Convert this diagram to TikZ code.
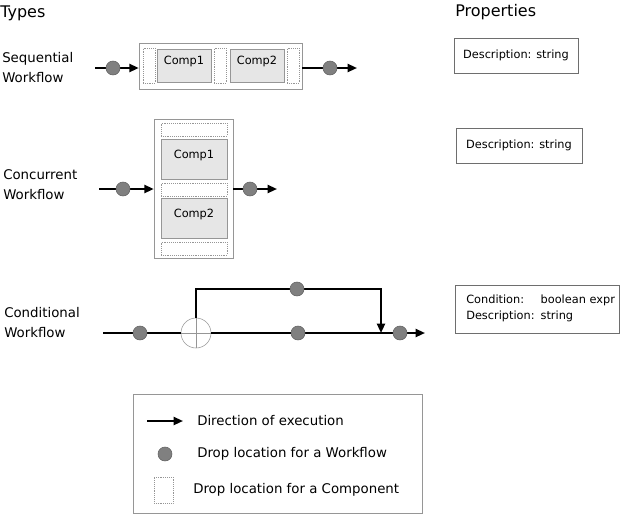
\documentclass[tikz,border=0pt]{standalone}
\usepackage{fontspec}
\setmainfont{DejaVu Sans}
\usepackage{tikz}
\usetikzlibrary{arrows.meta}

\definecolor{dropfill}{RGB}{128,128,128}
\definecolor{dropdraw}{RGB}{95,95,95}
\definecolor{boxgray}{RGB}{150,150,150}
\definecolor{compfill}{RGB}{230,230,230}
\definecolor{propgray}{RGB}{110,110,110}

\begin{document}
\begin{tikzpicture}[x=0.75pt,y=0.75pt,yscale=-1,xscale=1,
    flow/.style={line width=1.5pt,-{Triangle[length=7pt,width=6pt]}},
    flowline/.style={line width=1.5pt},
    dropdot/.style={circle,fill=dropfill,draw=dropdraw,inner sep=0pt,minimum size=10.5pt},
    dropbox/.style={draw=boxgray,densely dotted,inner sep=0pt},
    outerbox/.style={draw=boxgray,inner sep=0pt},
    compbox/.style={draw=boxgray,fill=compfill,inner sep=0pt,font=\fontsize{8.5pt}{10pt}\selectfont,text height=6.5pt,text depth=7.5pt},
    propbox/.style={draw=propgray,inner sep=0pt,font=\fontsize{8.5pt}{11pt}\selectfont},
    typelabel/.style={anchor=west,inner sep=0pt,align=left,font=\fontsize{10pt}{15pt}\selectfont},
    legendtext/.style={anchor=west,inner sep=0pt,font=\fontsize{10pt}{12pt}\selectfont}]
        \useasboundingbox (0,0) rectangle (620,515);

        % Headings
        \node [anchor=west,inner sep=0pt,font=\fontsize{12pt}{14pt}\selectfont] (typesHead) at (0,13) {Types};
        \node [anchor=west,inner sep=0pt,font=\fontsize{12pt}{14pt}\selectfont] (propsHead) at (455,12) {Properties};

        % Text Node
        \node [typelabel] (seqLabel) at (2,68) {Sequential\\Workflow};
        % Text Node
        \node [typelabel] (parLabel) at (3,184.5) {Concurrent\\Workflow};
        % Text Node
        \node [typelabel] (condLabel) at (4,322.5) {Conditional\\Workflow};

        %Shape: Sequential workflow
        \node [outerbox,minimum width=122.25pt,minimum height=34.5pt] (seqBox) at (220.5,66) {};
        \node [dropbox,minimum width=9pt,minimum height=26.25pt] (seqDrop1) at (149,65.5) {};
        \node [compbox,minimum width=40.5pt,minimum height=24.75pt] (seqComp1) at (184,65.5) {Comp1};
        \node [dropbox,minimum width=9pt,minimum height=26.25pt] (seqDrop2) at (220,65.5) {};
        \node [compbox,minimum width=40.5pt,minimum height=24.75pt] (seqComp2) at (257,65.5) {Comp2};
        \node [dropbox,minimum width=9pt,minimum height=26.25pt] (seqDrop3) at (293,65.5) {};
        \coordinate (seqIn) at (95,68);
        \coordinate (seqOut) at (357,68);
        \draw [flow] (seqIn) -- (seqIn -| seqBox.west);
        \draw [flow] (seqIn -| seqBox.east) -- (seqOut);
        \node [dropdot] (seqDot1) at (113,68) {};
        \node [dropdot] (seqDot2) at (330,68) {};

        %Shape: Concurrent workflow
        \node [outerbox,minimum width=59.25pt,minimum height=104.25pt] (parBox) at (193.5,188.5) {};
        \node [dropbox,minimum width=49.5pt,minimum height=9.75pt] (parDrop1) at (194,129.5) {};
        \node [compbox,minimum width=49.5pt,minimum height=30pt] (parComp1) at (194,159) {Comp1};
        \node [dropbox,minimum width=49.5pt,minimum height=9.75pt] (parDrop2) at (194,189.5) {};
        \node [compbox,minimum width=49.5pt,minimum height=30pt] (parComp2) at (194,218) {Comp2};
        \node [dropbox,minimum width=49.5pt,minimum height=9.75pt] (parDrop3) at (194,248.5) {};
        \coordinate (parIn) at (99,189);
        \coordinate (parOut) at (277,189);
        \draw [flow] (parIn) -- (parIn -| parBox.west);
        \draw [flow] (parIn -| parBox.east) -- (parOut);
        \node [dropdot] (parDot1) at (123,189) {};
        \node [dropdot] (parDot2) at (250,189) {};

        %Shape: Conditional workflow
        \node [circle,draw=boxgray,fill=white,inner sep=0pt,minimum size=22.5pt] (condXor) at (196,333) {};
        \draw [boxgray,line width=0.5pt] (condXor.north) -- (condXor.south) (condXor.west) -- (condXor.east);
        \coordinate (condIn) at (103,333);
        \coordinate (condOut) at (425,333);
        \coordinate (condUpL) at (196,289);
        \coordinate (condUpR) at (381,289);
        \coordinate (condJoin) at (381,333);
        \draw [flowline] (condIn) -- (condXor.west);
        \draw [flow] (condXor.east) -- (condOut);
        \draw [flow] (condXor.north) -- (condUpL) -- (condUpR) -- (condJoin);
        \node [dropdot] (condDot1) at (140,333) {};
        \node [dropdot] (condDot2) at (298,333) {};
        \node [dropdot] (condDot3) at (400,333) {};
        \node [dropdot] (condDot4) at (297,289) {};

        %Shape: Properties
        \node [propbox,minimum width=93pt,minimum height=26.25pt] (propSeq) at (516,55.5) {Description: string};
        \node [propbox,minimum width=94.5pt,minimum height=26.25pt] (propPar) at (519,145.5) {Description: string};
        \node [propbox,minimum width=123pt,minimum height=36pt,anchor=west] (propCond) at (455,309) {};
        \node [anchor=west,inner sep=0pt,font=\fontsize{8.5pt}{11pt}\selectfont] (propCondText) at (466,308.5)
            {\begin{tabular}{@{}l@{\hspace{4.5pt}}l@{}}Condition: & boolean expr\\[1.5pt] Description: & string\end{tabular}};

        %Shape: Legend
        \node [outerbox,minimum width=216.75pt,minimum height=89.25pt] (legendBox) at (277.5,453.5) {};
        \coordinate (legendArrL) at (147,421);
        \coordinate (legendArrR) at (183,421);
        \draw [flow] (legendArrL) -- (legendArrR);
        \node [dropdot] (legendDot) at (165,454) {};
        \node [dropbox,minimum width=14.25pt,minimum height=19.5pt] (legendDrop) at (163.5,490) {};
        % Text Node
        \node [legendtext] (legendText1) at (197,421) {Direction of execution};
        % Text Node
        \node [legendtext] (legendText2) at (197,454) {Drop location for a Workflow};
        % Text Node
        \node [legendtext] (legendText3) at (193,490) {Drop location for a Component};
\end{tikzpicture}
\end{document}
